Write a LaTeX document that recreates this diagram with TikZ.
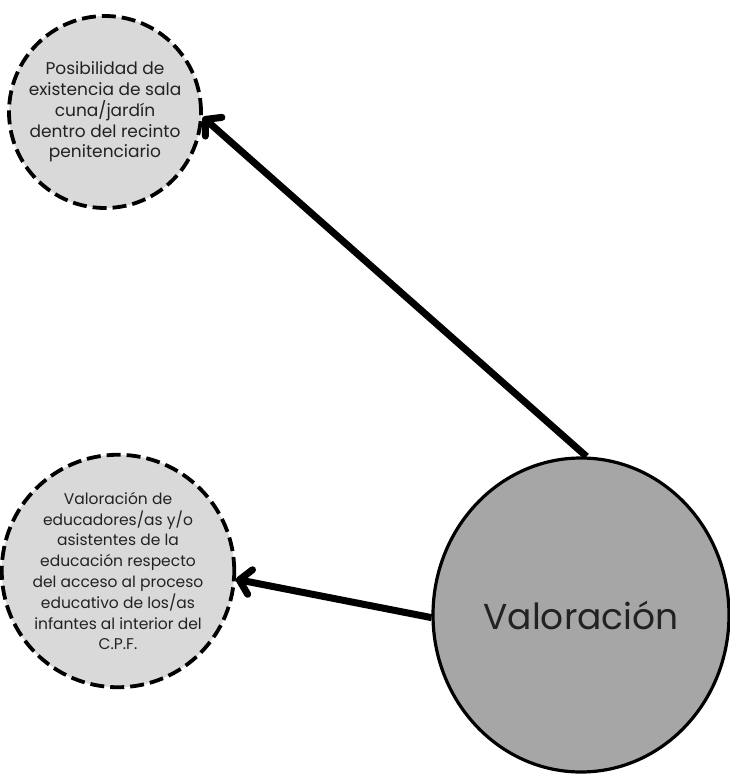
\documentclass[tikz,border=0pt]{standalone}
\usepackage{fontspec}
\setmainfont{Poppins}
\usetikzlibrary{arrows.meta,shapes.geometric}
\definecolor{lightfill}{HTML}{D9D9D9}
\definecolor{darkfill}{HTML}{A6A6A6}
\definecolor{txt}{HTML}{222222}
\tikzset{
  smallcirc/.style={circle, draw=black, fill=lightfill, line width=3.8pt,
    dash pattern=on 14pt off 6pt, inner sep=0pt, text=txt, align=center},
  bigcirc/.style={ellipse, draw=black, fill=darkfill, line width=3.2pt,
    inner sep=0pt, minimum width=296pt, minimum height=314pt, text=txt,
    font=\fontsize{36}{40}\selectfont},
  conn/.style={line width=7pt, -{Straight Barb[length=11pt,width=25pt,line cap=round,line join=round]}}
}
\begin{document}
\begin{tikzpicture}[x=1pt,y=-1pt]
\useasboundingbox (0,0) rectangle (730,776);
\node[smallcirc, minimum size=192pt, font=\fontsize{17}{20.8}\selectfont] (top) at (105,112) {Posibilidad de\\existencia de sala\\cuna/jardín\\dentro del recinto\\penitenciario};
\node[smallcirc, minimum size=224pt, font=\fontsize{15.5}{20.8}\selectfont] (mid) at (118,571) {Valoración de\\educadores/as y/o\\asistentes de la\\educación respecto\\del acceso al proceso\\educativo de los/as\\infantes al interior del\\C.P.F.};
\node[bigcirc] (val) at (581,615) {Valoración};
\draw[conn] (val.88) -- (top.-3);
\draw[conn] (val.181) -- (mid.-4);
\end{tikzpicture}
\end{document}
